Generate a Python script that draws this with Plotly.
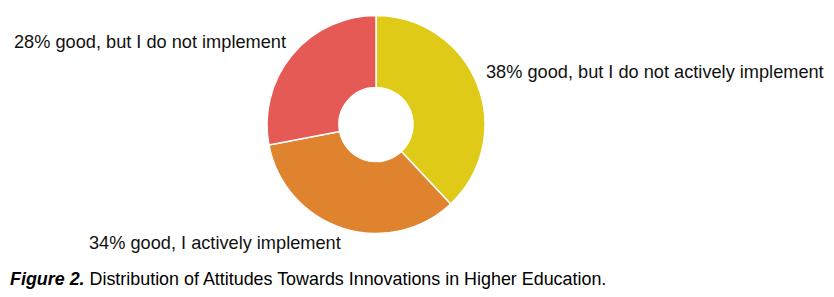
import plotly.graph_objects as go

labels = ["38% good, but I do not actively implement",
          "34% good, I actively implement",
          "28% good, but I do not implement"]
values = [38, 34, 28]
colors = ["#DFCA17", "#DF832F", "#E55A54"]
caption_bold = "Figure 2."
caption_rest = " Distribution of Attitudes Towards Innovations in Higher Education."

W, H = 834, 297
cx0, cx1 = 267, 485
cy0, cy1 = 15.5, 233.5

fig = go.Figure(go.Pie(
    labels=labels, values=values, hole=0.34, sort=False, direction="clockwise",
    rotation=0, textinfo="none", hoverinfo="label+value",
    marker=dict(colors=colors, line=dict(color="white", width=1.5)),
    domain=dict(x=[cx0 / W, cx1 / W], y=[(H - cy1) / H, (H - cy0) / H]),
    showlegend=False,
))

font = dict(family="Liberation Sans, Arial, sans-serif", size=18.2, color="#111111")
ann = [
    (484, 72, labels[0]),
    (87, 243, labels[1]),
    (12, 42, labels[2]),
]
annotations = [dict(x=x / W, y=(H - y) / H, xref="paper", yref="paper", text=t,
                    showarrow=False, xanchor="left", yanchor="middle", font=font)
               for x, y, t in ann]
annotations.append(dict(x=8 / W, y=(H - 279) / H, xref="paper", yref="paper",
                        text="<b><i>" + caption_bold + "</i></b>" + caption_rest,
                        showarrow=False, xanchor="left", yanchor="middle",
                        font=dict(family="Liberation Sans, Arial, sans-serif", size=17.9, color="#000000")))

fig.update_layout(width=W, height=H, margin=dict(l=0, r=0, t=0, b=0),
                  paper_bgcolor="white", plot_bgcolor="white", annotations=annotations)
fig.write_html("out.html")
